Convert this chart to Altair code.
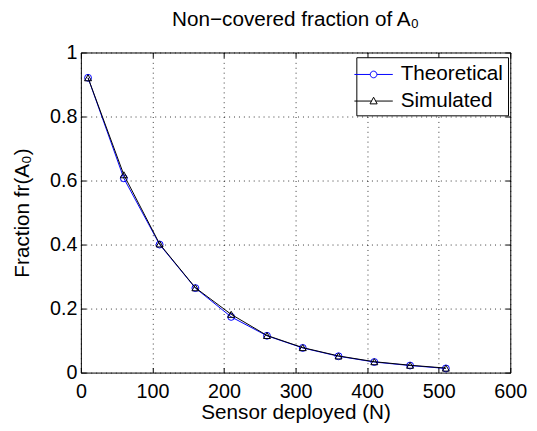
import altair as alt
import pandas as pd

# ---- data ----
x_vals = [10, 60, 110, 160, 210, 260, 310, 360, 410, 460, 510]
theoretical = [0.921, 0.607, 0.400, 0.264, 0.174, 0.115, 0.077, 0.051, 0.033, 0.022, 0.013]
simulated = [0.921, 0.618, 0.402, 0.265, 0.182, 0.116, 0.078, 0.052, 0.034, 0.023, 0.014]
series_names = ["Theoretical", "Simulated"]
series_colors = ["#0000ff", "#000000"]
x_ticks = [0, 100, 200, 300, 400, 500, 600]
y_ticks = [0, 0.2, 0.4, 0.6, 0.8, 1]

df = pd.DataFrame({
    "N": x_vals + x_vals,
    "fraction": theoretical + simulated,
    "series": [series_names[0]] * len(x_vals) + [series_names[1]] * len(x_vals),
})

FONT = "Liberation Sans"
W, H = 436, 325
xs = alt.Scale(domain=[0, 600], nice=False, zero=False)
ys = alt.Scale(domain=[0, 1], nice=False)

grid_common = dict(grid=True, gridDash=[1, 4], gridColor="#000000", gridWidth=1, gridOpacity=0.8)

main_x = alt.X("N:Q", scale=xs, axis=alt.Axis(
    orient="bottom", values=x_ticks, labelExpr="'' + datum.value", ticks=False, domain=False,
    labelFont=FONT, labelFontSize=20, labelColor="black", labelPadding=9,
    labelFlush=False, labelOverlap=False,
    title="Sensor deployed (N)", titleFont=FONT, titleFontSize=21,
    titleFontWeight="normal", titleColor="black", titleBaseline="alphabetic",
    titleY=47, **grid_common))
main_y = alt.Y("fraction:Q", scale=ys, axis=alt.Axis(
    orient="left", values=y_ticks, labelExpr="'' + datum.value", ticks=False, domain=False,
    labelFont=FONT, labelFontSize=20, labelColor="black", labelPadding=4,
    labelFlush=False, labelOverlap=False,
    title="Fraction fr(A₀)", titleFont=FONT, titleFontSize=21,
    titleFontWeight="normal", titleColor="black", titleBaseline="alphabetic",
    titleX=-53, **grid_common))

plain_x = alt.X("N:Q", scale=xs, axis=None)
plain_y = alt.Y("fraction:Q", scale=ys, axis=None)


def tick_axis(orient, offset, values):
    return alt.Axis(orient=orient, offset=offset, values=values, labels=False,
                    domain=False, grid=False, ticks=True, tickSize=5,
                    tickColor="black", tickWidth=1, title=None)


base = alt.Chart(df)

theo_line = base.transform_filter(alt.datum.series == series_names[0]).mark_line(
    color=series_colors[0], strokeWidth=1).encode(x=main_x, y=main_y)
theo_pts = base.transform_filter(alt.datum.series == series_names[0]).mark_point(
    shape="circle", size=49, filled=False, color=series_colors[0], strokeWidth=1,
    opacity=1).encode(x=plain_x, y=plain_y)
sim_line = base.transform_filter(alt.datum.series == series_names[1]).mark_line(
    color=series_colors[1], strokeWidth=1).encode(x=plain_x, y=plain_y)
sim_pts = base.transform_filter(alt.datum.series == series_names[1]).mark_point(
    shape="triangle-up", size=50, filled=False, color=series_colors[1], strokeWidth=1,
    opacity=1).encode(x=plain_x, y=plain_y)

# legend symbols: line with marker (custom SVG paths, unit = 13 px);
# lone move-to points only widen the legend box
circ_path = ("M-1.88,0M10.0,0"
             "M-1.5,0L-0.26,0M0.26,0L1.5,0"
             "M-0.26,0A0.26,0.26,0,1,1,0.26,0A0.26,0.26,0,1,1,-0.26,0Z")
tri_path = ("M-1.88,0M10.0,0"
            "M-1.5,0L-0.16,0M0.16,0L1.5,0"
            "M-0.28,0.22L0.28,0.22L0,-0.3Z")

legend_props = dict(orient="none", legendX=279.7, legendY=4.8, title=None,
                    fillColor="white", strokeColor="black", padding=4,
                    labelOffset=14, labelFont=FONT,
                    labelFontSize=21, labelColor="black", symbolSize=676,
                    symbolStrokeWidth=1, symbolOpacity=1, rowPadding=3)

legend_layer = base.transform_filter("false").mark_point(filled=False, opacity=1).encode(
    x=alt.X("N:Q", scale=xs, axis=tick_axis("top", -H, x_ticks)),
    y=alt.Y("fraction:Q", scale=ys, axis=tick_axis("right", -W, y_ticks)),
    color=alt.Color("series:N", scale=alt.Scale(domain=series_names, range=series_colors),
                    legend=alt.Legend(**legend_props)),
    shape=alt.Shape("series:N", scale=alt.Scale(domain=series_names, range=[circ_path, tri_path]),
                    legend=alt.Legend(**legend_props)),
)

tick_layer = base.transform_filter("false").mark_point(opacity=0).encode(
    x=alt.X("N:Q", scale=xs, axis=tick_axis("bottom", -H, x_ticks)),
    y=alt.Y("fraction:Q", scale=ys, axis=tick_axis("left", -W, y_ticks)),
)

chart = alt.layer(theo_line, theo_pts, sim_line, sim_pts, legend_layer, tick_layer).resolve_axis(
    x="independent", y="independent"
).properties(
    width=W, height=H,
    title=alt.TitleParams(text="Non−covered fraction of A₀", font=FONT, fontSize=21,
                          fontWeight="normal", color="black", anchor="middle",
                          frame="group", baseline="alphabetic", offset=-4),
    padding={"left": 74, "top": 42, "right": 19, "bottom": 48},
    autosize=alt.AutoSizeParams(type="none"),
    background="white",
).configure_view(stroke="black", strokeWidth=1)

chart.save("out.html", embed_options={"renderer": "svg", "actions": False})
